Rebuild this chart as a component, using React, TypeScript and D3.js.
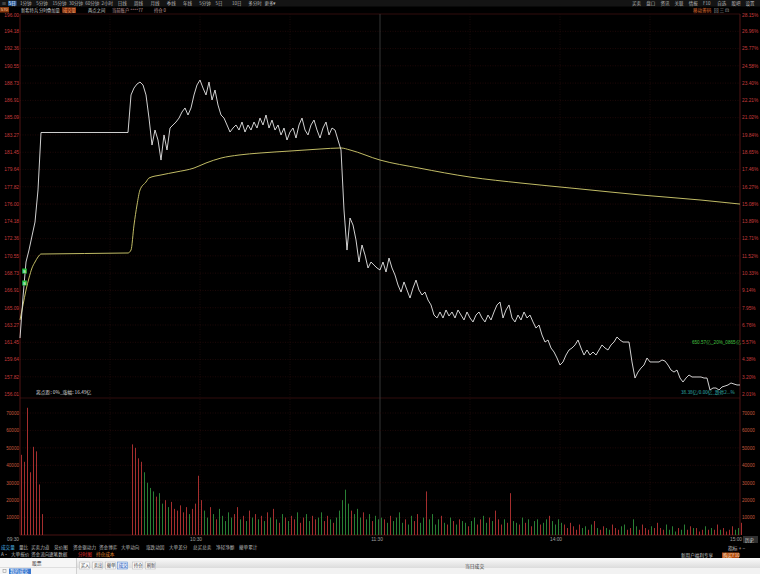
import * as d3 from "d3";

// ---- axis data ----
const PRICE_LEVELS = [196.0, 194.18, 192.36, 190.55, 188.73, 186.91, 185.09, 183.27, 181.45, 179.64, 177.82, 176.0, 174.18, 172.36, 170.55, 168.73, 166.91, 165.09, 163.27, 161.45, 159.64, 157.82, 156.01];
const PCT_LABELS = ["28.15%", "26.96%", "25.77%", "24.58%", "23.40%", "22.21%", "21.02%", "19.84%", "18.65%", "17.46%", "16.27%", "15.08%", "13.89%", "12.71%", "11.52%", "10.33%", "9.14%", "7.95%", "6.76%", "5.57%", "4.38%", "3.20%", "2.01%"];
const VOL_TICKS = [10000, 20000, 30000, 40000, 50000, 60000, 70000];
const GRID_MINUTES = [30, 60, 90, 120, 150, 180, 210];
const TIME_TICKS = [0, 60, 120, 180, 240];
const TIME_TEXT = ["09:30", "10:30", "11:30", "14:00", "15:00"];

// ---- price line (minute index, price) ----
const PRICE_T = [0, 1, 2, 3, 4, 5, 6, 7, 36,
  37, 38, 39, 40, 41, 42, 43, 44, 45, 46, 47, 48, 49, 50, 51, 52, 53, 54, 55, 56, 57, 58, 59, 60,
  61, 62, 63, 64, 65, 66, 67, 68, 69, 70, 71, 72, 73, 74, 75, 76, 77, 78, 79, 80,
  81, 82, 83, 84, 85, 86, 87, 88, 89, 90, 91, 92, 93, 94, 95, 96, 97, 98, 99, 100,
  101, 102, 103, 104, 105, 106, 107, 108, 109, 110, 111, 112, 113, 114, 115, 116, 117, 118, 119, 120,
  121, 122, 123, 124, 125, 126, 127, 128, 129, 130, 131, 132, 133, 134, 135, 136, 137, 138, 139, 140,
  141, 142, 143, 144, 145, 146, 147, 148, 149, 150, 151, 152, 153, 154, 155, 156, 157, 158, 159, 160,
  161, 162, 163, 164, 165, 166, 167, 168, 169, 170, 171, 172, 173, 174, 175, 176, 177, 178, 179, 180,
  181, 182, 183, 184, 185, 186, 187, 188, 189, 190, 191, 192, 193, 194, 195, 196, 197, 198, 199, 200,
  201, 202, 203, 204, 205, 206, 207, 208, 209, 210, 211, 212, 213, 214, 215, 216, 217, 218, 219, 220,
  221, 222, 223, 224, 225, 226, 227, 228, 229, 230, 231, 232, 233, 234, 235, 236, 237, 238, 239, 240];
const PRICE_V = [161.9, 166.22, 169.9, 171.16, 172.64, 174.11, 177.48, 183.53, 183.53,
  187.48, 188.21, 188.63, 188.84, 188.53, 187.48, 185.05, 182.21, 183.79, 182.74, 180.63, 183.27, 181.69, 184.0, 184.32, 184.63, 185.05, 185.69, 186.11, 185.37, 186.11, 187.48, 188.53, 189.05,
  188.21, 187.48, 188.84, 186.95, 188.0, 186.42, 185.37, 185.05, 184.32, 183.58, 184.0, 184.32, 183.79, 184.63, 183.58, 184.32, 183.79, 184.63, 184.0, 185.05,
  184.32, 185.37, 184.0, 184.84, 183.79, 184.32, 183.27, 184.0, 182.74, 183.58, 184.0, 182.95, 184.32, 185.05, 183.79, 183.27, 184.32, 184.84, 183.79, 182.95,
  184.0, 184.63, 183.27, 184.0, 183.79, 182.74, 181.69, 175.37, 171.16, 174.53, 173.79, 172.22, 169.9, 171.69, 170.64, 169.27, 169.9, 169.58, 169.27, 169.06,
  169.9, 168.85, 170.32, 169.27, 168.53, 167.48, 166.74, 167.8, 166.95, 166.11, 167.16, 168.0, 166.95, 166.43, 166.74, 165.9, 165.38, 164.32, 164.01, 164.64,
  164.01, 164.85, 164.22, 164.64, 164.01, 164.85, 164.32, 163.8, 164.64, 164.01, 163.59, 164.32, 164.64, 164.01, 163.59, 164.32, 163.8, 164.64, 165.38, 165.69,
  164.01, 164.85, 165.38, 164.01, 163.59, 164.32, 163.8, 164.64, 164.01, 164.32, 163.59, 162.95, 163.27, 162.22, 161.48, 161.69, 160.85, 160.43, 159.8, 159.06,
  159.38, 160.11, 160.64, 160.85, 161.17, 161.69, 160.85, 160.11, 160.64, 160.11, 160.43, 160.11, 160.64, 161.17, 160.85, 160.64, 161.17, 161.48, 162.01, 161.69,
  161.48, 161.48, 161.48, 159.38, 157.69, 158.32, 158.74, 159.06, 159.8, 159.38, 159.38, 159.38, 159.38, 159.59, 159.48, 159.06, 158.53, 158.32, 158.53, 157.69,
  157.27, 157.69, 158.01, 157.8, 157.8, 157.8, 157.8, 157.69, 157.69, 156.43, 156.64, 156.64, 156.43, 156.75, 156.85, 156.96, 157.17, 157.06, 156.96, 156.96];

// ---- average price line ----
const AVG_T = [0, 1, 2, 3, 4, 5, 6, 7, 36, 37, 38, 39, 40, 42, 43, 47, 52, 58, 62, 67, 73, 80, 90, 100, 107, 110, 120, 133, 150, 167, 187, 207, 227, 240];
const AVG_V = [163.8, 165.38, 166.95, 168.22, 169.27, 169.9, 170.43, 170.74, 170.85, 171.16, 173.79, 175.9, 177.48, 178.32, 178.74, 179.06, 179.37, 179.79, 180.32, 180.84, 181.16, 181.37, 181.58, 181.79, 181.9, 181.69, 180.63, 179.79, 178.84, 178.21, 177.58, 176.95, 176.42, 176.0];

// ---- buy markers near the open ----
const MARKER_T = [1.5, 1.5];
const MARKER_V = [168.95, 167.69];

// ---- volume per minute ----
const VOLUMES = [46000, 42000, 73000, 36000, 50600, 48000, 29000, 12000,
  0, 0, 0, 0, 0, 0, 0, 0, 0, 0, 0, 0, 0, 0, 0, 0, 0, 0, 0, 0, 0, 0, 0, 0, 0, 0, 0, 0, 0,
  52000, 50000, 44000, 42000, 36000, 30000, 27000, 25000, 22000, 24000, 18000, 20000, 16000, 19000, 15000, 14000, 17000, 13000, 16000, 12000, 15000, 18000, 34000, 20000,
  14000, 10000, 16000, 12000, 9000, 15000, 11000, 8000, 13000, 10000, 12000, 16000, 9000, 11000, 8000, 14000, 10000, 12000, 9000, 11000,
  8000, 13000, 10000, 15000, 9000, 7000, 12000, 10000, 8000, 11000, 9000, 13000, 7000, 10000, 12000, 8000, 11000, 9000, 10000, 13000,
  8000, 11000, 9000, 7000, 10000, 14000, 20000,
  26000, 18000, 14000, 12000, 15000, 10000, 13000, 9000, 12000, 8000, 11000, 9000, 10000,
  9000, 7000, 11000, 8000, 10000, 13000, 7000, 9000, 6000, 11000, 8000, 12000, 7000, 10000, 25000, 9000, 12000, 6000, 9000, 11000,
  7000, 6000, 10000, 8000, 6000, 9000, 8000, 7000, 5000, 8000, 10000, 6000, 9000, 11000, 7000, 10000, 8000, 14000, 9000, 6000,
  9000, 7000, 24000, 8000, 7000, 6000, 10000, 7000, 9000, 5000, 8000, 9000, 6000, 7000, 9000, 11000, 8000, 6000, 9000, 7000,
  6000, 4000, 7000, 5000, 3000, 6000, 4000, 5000, 3000, 6000, 8000, 4000, 3000, 5000, 4000, 3000, 6000, 4000, 3000, 5000,
  6000, 3000, 4000, 9000, 5000, 3000, 6000, 4000, 3000, 5000, 4000, 7000, 4000, 3000, 6000, 3000, 5000, 2000, 4000, 3000,
  6000, 3000, 5000, 4000, 4000, 2000, 3000, 5000, 3000, 4000, 3000, 6000, 3000, 4000, 2000, 3000, 5000, 3000, 4000, 7000];

// ---- toolbar / footer texts ----
const TOP_LEFT_ITEMS = ["1分钟", "5分钟", "15分钟", "30分钟", "60分钟", "2小时", "日线", "周线", "月线", "季线", "年线", "5分钟", "5日", "10日", "多分时", "更多▾"];
const TOP_RIGHT_ITEMS = ["买卖", "盘口", "资讯", "关联", "情报", "F10", "自选", "股吧", "设置"];
const TITLE_ITEMS = ["新希特兵", "分时", "叠加量", "成交量", "两点之间", "当前账户 ****77", "持仓 0"];
const IND_ROW1 = ["成交量", "量比", "买卖力道", "竞价图", "资金驱动力", "资金博弈", "大单动向", "涨跌动因", "大单差分", "总买总卖", "净轻净额", "撤单累计"];
const IND_ROW2 = ["A·", "大单报价", "资金流向", "逐笔数据", "分时图", "持仓成本"];
const TABS = ["买入", "卖出", "撤单", "成交", "持仓", "刷新"];

const CJK = "'Noto Sans CJK SC', 'Noto Sans', sans-serif";
const NUM = "'Liberation Sans', Arial, sans-serif";

export default function App() {
  const x = d3.scaleLinear().domain([0, 240]).range([20, 740]);
  const yP = d3.scaleLinear().domain([156.01, 196.0]).range([394, 14]);
  const yV = d3.scaleLinear().domain([0, 70000]).range([535, 413]);

  const priceMap = new Map<number, number>();
  PRICE_T.forEach((t, i) => priceMap.set(t, PRICE_V[i]));

  const line = d3
    .line<number>()
    .x((_, i) => x(PRICE_T[i]))
    .y((d) => yP(d));
  const avgLine = d3
    .line<number>()
    .x((_, i) => x(AVG_T[i]))
    .y((d) => yP(d))
    .curve(d3.curveMonotoneX);

  const barColor = (m: number) => {
    const p = priceMap.get(m);
    const prev = priceMap.get(m - 1);
    if (p === undefined || prev === undefined) return "#b83434";
    return p >= prev ? "#b83434" : "#2e8e3a";
  };

  return (
    <div style={{ position: "absolute", left: 0, top: 0 }}>
      <svg width={760} height={574} style={{ display: "block", background: "#000" }}>
        {/* top toolbar */}
        <rect x={0} y={0} width={760} height={6.5} fill="#141414" />
        <text x={1.5} y={5} fontSize={5} fill="#bbb" fontFamily={CJK}>≡</text>
        <rect x={8} y={0.8} width={8.5} height={5} fill="#2a5fa0" />
        <text x={8.8} y={4.9} fontSize={4.3} fill="#fff" fontFamily={CJK}>5日</text>
        {TOP_LEFT_ITEMS.map((s, i) => (
          <text key={s + i} x={20 + i * 16.3} y={5} fontSize={4.5} fill="#b8b8b8" fontFamily={CJK}>{s}</text>
        ))}
        {TOP_RIGHT_ITEMS.map((s, i) => (
          <text key={s + i} x={632 + i * 14.2} y={5} fontSize={4.5} fill="#b8b8b8" fontFamily={CJK}>{s}</text>
        ))}

        {/* title row */}
        <rect x={0} y={7} width={9} height={5.5} fill="#8a3a10" />
        <text x={0.8} y={11.3} fontSize={4.2} fill="#ffd2a0" fontFamily={NUM}>570</text>
        {TITLE_ITEMS.map((s, i) => {
          const xs = [21, 39, 47, 63, 88, 112, 154];
          const hl = i === 3;
          return (
            <g key={s}>
              {hl && <rect x={xs[i] - 1} y={7.2} width={14} height={5.5} fill="#7a2e10" />}
              <text x={xs[i]} y={11.5} fontSize={4.3} fill={hl ? "#ffa060" : i >= 5 ? "#c8a0a0" : "#c8c8c8"} fontFamily={CJK}>{s}</text>
            </g>
          );
        })}
        <text x={693} y={11.5} fontSize={4.6} fill="#e07030" fontFamily={CJK}>移动筹码</text>
        <text x={714} y={11.5} fontSize={4.6} fill="#aaa" fontFamily={CJK}>回 三 ⊡</text>

        {/* price grid */}
        {PRICE_LEVELS.map((p, i) => (
          <g key={"pl" + i}>
            {i > 0 && i < PRICE_LEVELS.length - 1 && (
              <line x1={20} x2={740} y1={yP(p)} y2={yP(p)} stroke="#2c0c0c" strokeWidth={0.7} strokeDasharray="1 1.5" />
            )}
            <text x={19} y={yP(p) + (i === 0 ? 2.5 : 1.8)} textAnchor="end" fontSize={4.8} fill="#c83c3c" fontFamily={NUM}>{p.toFixed(2)}</text>
            <text x={742} y={yP(p) + (i === 0 ? 2.5 : 1.8)} fontSize={4.8} fill="#c83c3c" fontFamily={NUM}>{PCT_LABELS[i]}</text>
          </g>
        ))}
        <line x1={20} x2={740} y1={14} y2={14} stroke="#3c1010" strokeWidth={0.8} />
        <line x1={20} x2={740} y1={398} y2={398} stroke="#3c1010" strokeWidth={0.8} />

        {/* vertical grid */}
        {GRID_MINUTES.map((m) => (
          <line key={"vg" + m} x1={x(m)} x2={x(m)} y1={14} y2={535} stroke={m === 120 ? "#3a3a3a" : "#241010"} strokeWidth={m === 120 ? 0.9 : 0.7} strokeDasharray={m === 120 ? undefined : "1 1.5"} />
        ))}
        <line x1={20} x2={20} y1={14} y2={535} stroke="#5a1616" strokeWidth={0.9} />
        <line x1={740} x2={740} y1={14} y2={535} stroke="#5a1616" strokeWidth={0.9} />

        {/* average line and price line */}
        <path d={avgLine(AVG_V) ?? ""} fill="none" stroke="#d6d070" strokeWidth={0.9} />
        <path d={line(PRICE_V) ?? ""} fill="none" stroke="#e8e8e8" strokeWidth={0.9} />

        {/* buy markers */}
        {MARKER_V.map((v, i) => (
          <g key={"bm" + i}>
            <rect x={x(MARKER_T[i]) - 2.3} y={yP(v) - 2.5} width={4.6} height={5} fill="#28c040" />
            <text x={x(MARKER_T[i])} y={yP(v) + 1.6} textAnchor="middle" fontSize={3.8} fill="#fff" fontFamily={NUM}>B</text>
          </g>
        ))}

        {/* annotations */}
        <text x={36} y={394} fontSize={4.8} fill="#d8d8d8" fontFamily={CJK}>离点距: 0%_涨幅: 16.49亿</text>
        <text x={692} y={344} fontSize={4.6} fill="#40c040" fontFamily={NUM}>650.57亿_20%_0865亿</text>
        <text x={681} y={394} fontSize={4.6} fill="#30b0b0" fontFamily={CJK}>38.38亿/0.00亿_跌停2...%</text>

        {/* volume grid + labels */}
        {VOL_TICKS.map((v) => (
          <g key={"vt" + v}>
            <line x1={20} x2={740} y1={yV(v)} y2={yV(v)} stroke="#2c0c0c" strokeWidth={0.7} strokeDasharray="1 1.5" />
            <text x={19} y={yV(v) + 1.8} textAnchor="end" fontSize={4.6} fill="#c85a3c" fontFamily={NUM}>{v}</text>
            <text x={742} y={yV(v) + 1.8} fontSize={4.6} fill="#c85a3c" fontFamily={NUM}>{v}</text>
          </g>
        ))}
        <line x1={20} x2={740} y1={535} y2={535} stroke="#5a1616" strokeWidth={0.8} />

        {/* volume bars */}
        {VOLUMES.map((v, m) =>
          v > 0 ? (
            <rect key={"vb" + m} x={x(m) + 1} y={yV(v)} width={0.9} height={yV(0) - yV(v)} fill={barColor(m)} />
          ) : null
        )}

        {/* time labels */}
        {TIME_TICKS.map((t, i) => (
          <text key={"tt" + t} x={i === 0 ? 7 : i === 2 ? x(t) - 3 : x(t) - 4} y={541} textAnchor={i === 0 ? "start" : "middle"} fontSize={4.8} fill="#a0a0a0" fontFamily={NUM}>{TIME_TEXT[i]}</text>
        ))}
        <rect x={743} y={536} width={15} height={7} fill="#303030" />
        <text x={745} y={541.5} fontSize={4.6} fill="#ddd" fontFamily={CJK}>历史</text>

        {/* indicator rows */}
        {IND_ROW1.map((s, i) => {
          const xs = [0, 18, 30, 53, 72, 98, 120, 145, 168, 192, 215, 238];
          return (
            <text key={"r1" + i} x={xs[i] + 1} y={549} fontSize={4.6} fill={i === 0 ? "#4ab0e0" : "#b8b8b8"} fontFamily={CJK}>{s}</text>
          );
        })}
        {IND_ROW2.map((s, i) => {
          const xs = [0, 10, 30, 48, 77, 95];
          const c = i === 4 ? "#e03030" : i === 5 ? "#e08a30" : "#b8b8b8";
          return (
            <text key={"r2" + i} x={xs[i] + 1} y={556} fontSize={4.6} fill={c} fontFamily={CJK}>{s}</text>
          );
        })}
        <text x={728} y={550} fontSize={4.8} fill="#ccc" fontFamily={CJK}>指标  +  −</text>
        <text x={681} y={557} fontSize={4.6} fill="#ccc" fontFamily={CJK}>新用户福利专享</text>
        <rect x={722} y={552.5} width={17} height={5.5} fill="#b04a10" />
        <text x={723} y={557} fontSize={4.6} fill="#ffe0c0" fontFamily={CJK}>购买F10</text>

        {/* bottom trading panel */}
        <defs>
          <linearGradient id="panelHead" x1="0" x2="0" y1="0" y2="1">
            <stop offset="0" stopColor="#fafafa" />
            <stop offset="1" stopColor="#dcdcdc" />
          </linearGradient>
        </defs>
        <rect x={0} y={558} width={760} height={16} fill="#f2f2f2" />
        <rect x={0} y={558} width={760} height={10} fill="url(#panelHead)" />
        <rect x={0} y={558} width={76} height={16} fill="#f6f6f6" />
        <line x1={76.5} x2={76.5} y1={558} y2={574} stroke="#c8c8c8" strokeWidth={0.8} />
        <line x1={0} x2={76} y1={567.5} y2={567.5} stroke="#d0d0d0" strokeWidth={0.6} />
        <text x={32} y={564.5} fontSize={4.8} fill="#333" fontFamily={CJK}>股票</text>
        <rect x={3} y={569.5} width={3} height={3} fill="none" stroke="#888" strokeWidth={0.5} />
        <rect x={9} y={568.5} width={22} height={5.5} fill="#3a78d0" />
        <text x={10} y={573} fontSize={4.6} fill="#fff" fontFamily={CJK}>我的成交</text>
        {TABS.map((s, i) => {
          const xs = [80, 93, 106, 118, 133, 146];
          const sel = i === 3;
          return (
            <g key={"tab" + i}>
              <rect x={xs[i] - 0.5} y={562} width={10} height={7} fill={sel ? "#dde8fa" : "#fbfbfb"} stroke={sel ? "#4a7fd0" : "#b8b8b8"} strokeWidth={0.5} />
              <text x={xs[i] + 0.7} y={567.2} fontSize={4.4} fill={sel ? "#2050b0" : "#333"} fontFamily={CJK}>{s}</text>
            </g>
          );
        })}
        <text x={465} y={567.5} fontSize={4.8} fill="#333" fontFamily={CJK}>当日成交</text>
      </svg>
    </div>
  );
}
